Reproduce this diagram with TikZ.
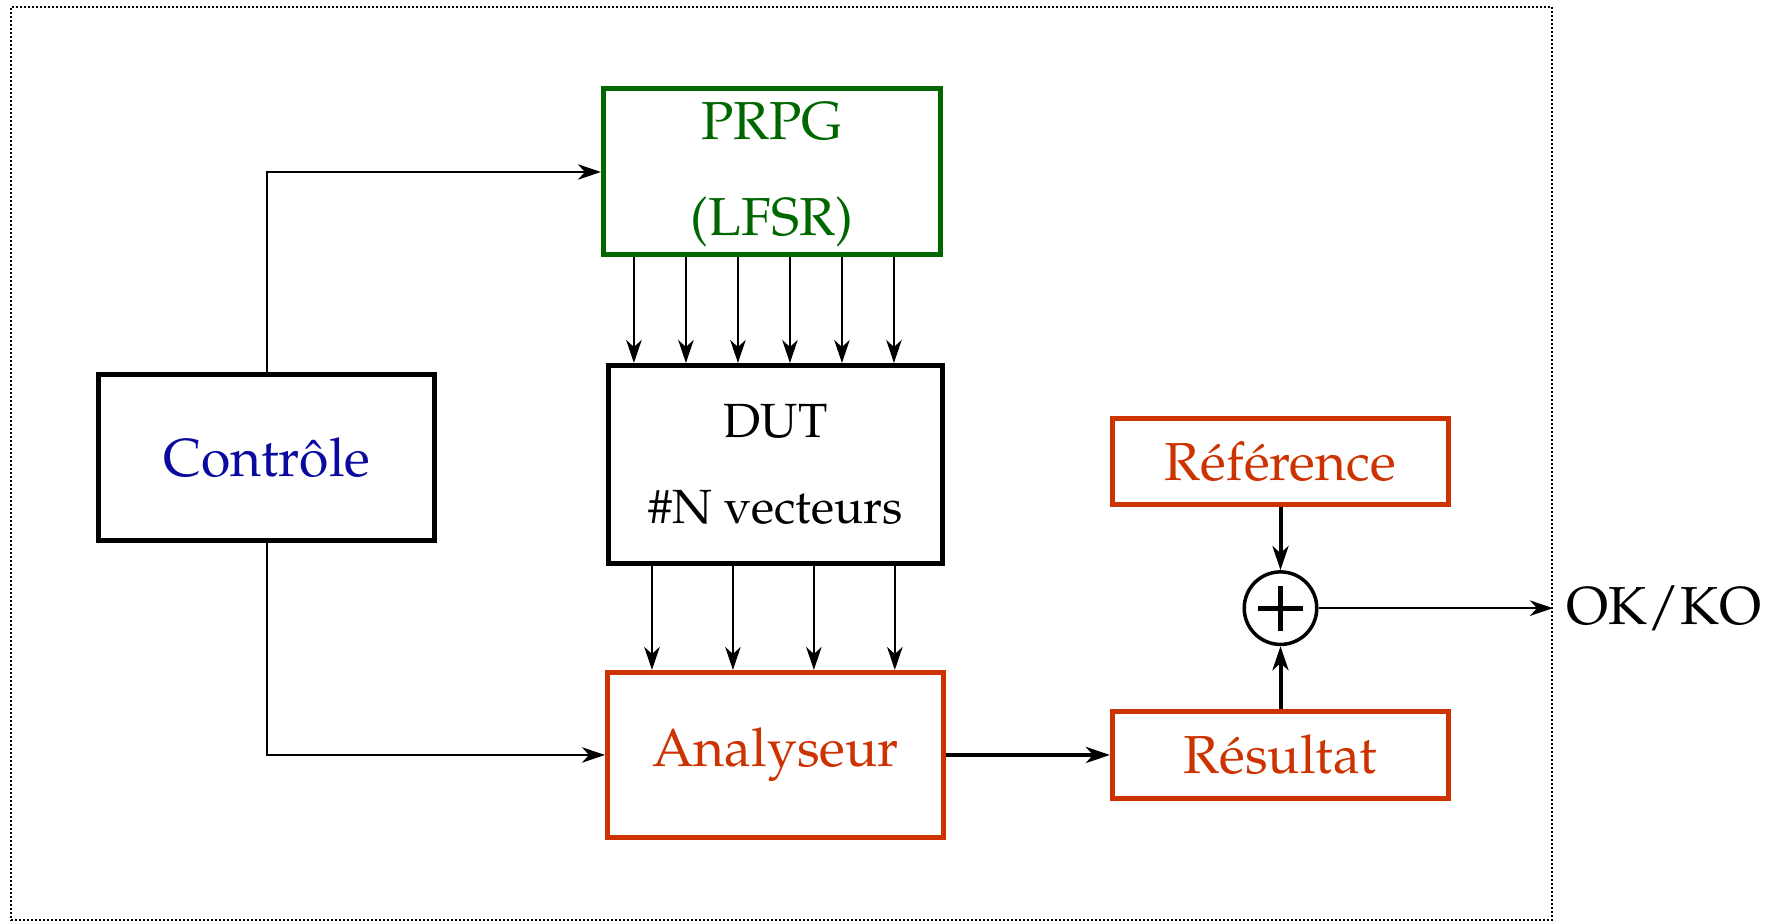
\documentclass[tikz,border=0pt]{standalone}
\usepackage[T1]{fontenc}
\usepackage{mathpazo}
\usepackage{tikz}
\usetikzlibrary{
  arrows.meta,
  positioning,
  calc
}
\definecolor{colCtrl}{HTML}{0A0AA0}
\definecolor{colGen} {HTML}{006600}
\definecolor{colChk} {HTML}{CC3300}
\tikzset{
  %% generic box
  block/.style={
    draw=#1, line width=1pt,
    align=center,
    font=\fontsize{10.7pt}{13pt}\selectfont,
    inner sep=0pt
  },
  block/.default=black,
  %% comparator (circled plus)
  xorop/.style={
    draw, circle, line width=0.7pt,
    minimum size=0.51cm, inner sep=0pt,
    path picture={
      \draw[line width=1pt]
        (path picture bounding box.center) +(-4.5pt,0) -- +(4.5pt,0)
        (path picture bounding box.center) +(0,-4.5pt) -- +(0,4.5pt);
    }
  },
  %% arrows
  arr/.style ={-{Stealth[length=4.6pt,width=3.1pt,inset=1.4pt]}, line width=0.4pt},
  tarr/.style={-{Stealth[length=4.8pt,width=3.2pt,inset=1.4pt]}, line width=0.8pt},
  %% system boundary
  sysframe/.style={
    draw, line width=0.4pt,
    dash pattern=on 0.4pt off 0.4pt,
    inner sep=0pt
  }
}

\begin{document}
\begin{tikzpicture}
\useasboundingbox (0,0) rectangle (12.491,6.495);

% ════════════════════════════════════════════════════════════
% SYSTEM BOUNDARY
% ════════════════════════════════════════════════════════════
\node[sysframe, minimum width=10.832cm, minimum height=6.418cm]
     (sys) at (5.493,3.237) {};

% ════════════════════════════════════════════════════════════
% CONTROL + GENERATOR / DUT / ANALYSER COLUMN
% ════════════════════════════════════════════════════════════
\node[block, text=colCtrl,
      minimum width=2.362cm, minimum height=1.167cm]
     (ctrl) at (1.875,3.279) {Contrôle};

\node[block=colGen, text=colGen, text depth=1.1pt,
      minimum width=2.369cm, minimum height=1.167cm]
     (prpg) at (5.426,5.286) {PRPG\\[6.2pt](LFSR)};

\node[block, minimum width=2.348cm, minimum height=1.392cm,
      font=\fontsize{9.6pt}{11.6pt}\selectfont]
     (dut) at (5.451,3.230) {DUT\\[5.7pt]\#N vecteurs};

\node[block=colChk, text=colChk,
      minimum width=2.362cm, minimum height=1.160cm]
     (ana) at (5.451,1.188) {Analyseur};

% ════════════════════════════════════════════════════════════
% REFERENCE / RESULT COMPARISON
% ════════════════════════════════════════════════════════════
\node[block=colChk, text=colChk,
      minimum width=2.362cm, minimum height=0.605cm]
     (ref) at (9.001,3.252) {Référence};

\node[block=colChk, text=colChk,
      minimum width=2.362cm, minimum height=0.605cm]
     (res) at (9.001,1.188) {Résultat};

\node[xorop] (xor) at ($(ref)!0.5!(res)$) {};

\coordinate (out) at (xor -| sys.east);
\node[anchor=west, inner sep=0pt,
      font=\fontsize{10.7pt}{13pt}\selectfont]
     (okko) at ([xshift=0.091cm]out) {OK/KO};

% ════════════════════════════════════════════════════════════
% ARROWS
% ════════════════════════════════════════════════════════════
\draw[arr] (ctrl.north) |- (prpg.west);
\draw[arr] (ctrl.south) |- (ana.west);

% pattern bus
\foreach \i in {0,...,5} {
  \coordinate (p\i) at ([xshift=-0.970cm+\i*0.3656cm]prpg.south);
  \draw[arr] (p\i) -- (p\i |- dut.north);
}

% response bus
\foreach \i in {0,...,3} {
  \coordinate (d\i) at ([xshift=-0.868cm+\i*0.569cm]dut.south);
  \draw[arr] (d\i) -- (d\i |- ana.north);
}

\draw[tarr] (ana.east) -- (res.west);
\draw[tarr] (ref) -- (xor);
\draw[tarr] (res) -- (xor);
\draw[arr]  (xor) -- (out);

\end{tikzpicture}
\end{document}
